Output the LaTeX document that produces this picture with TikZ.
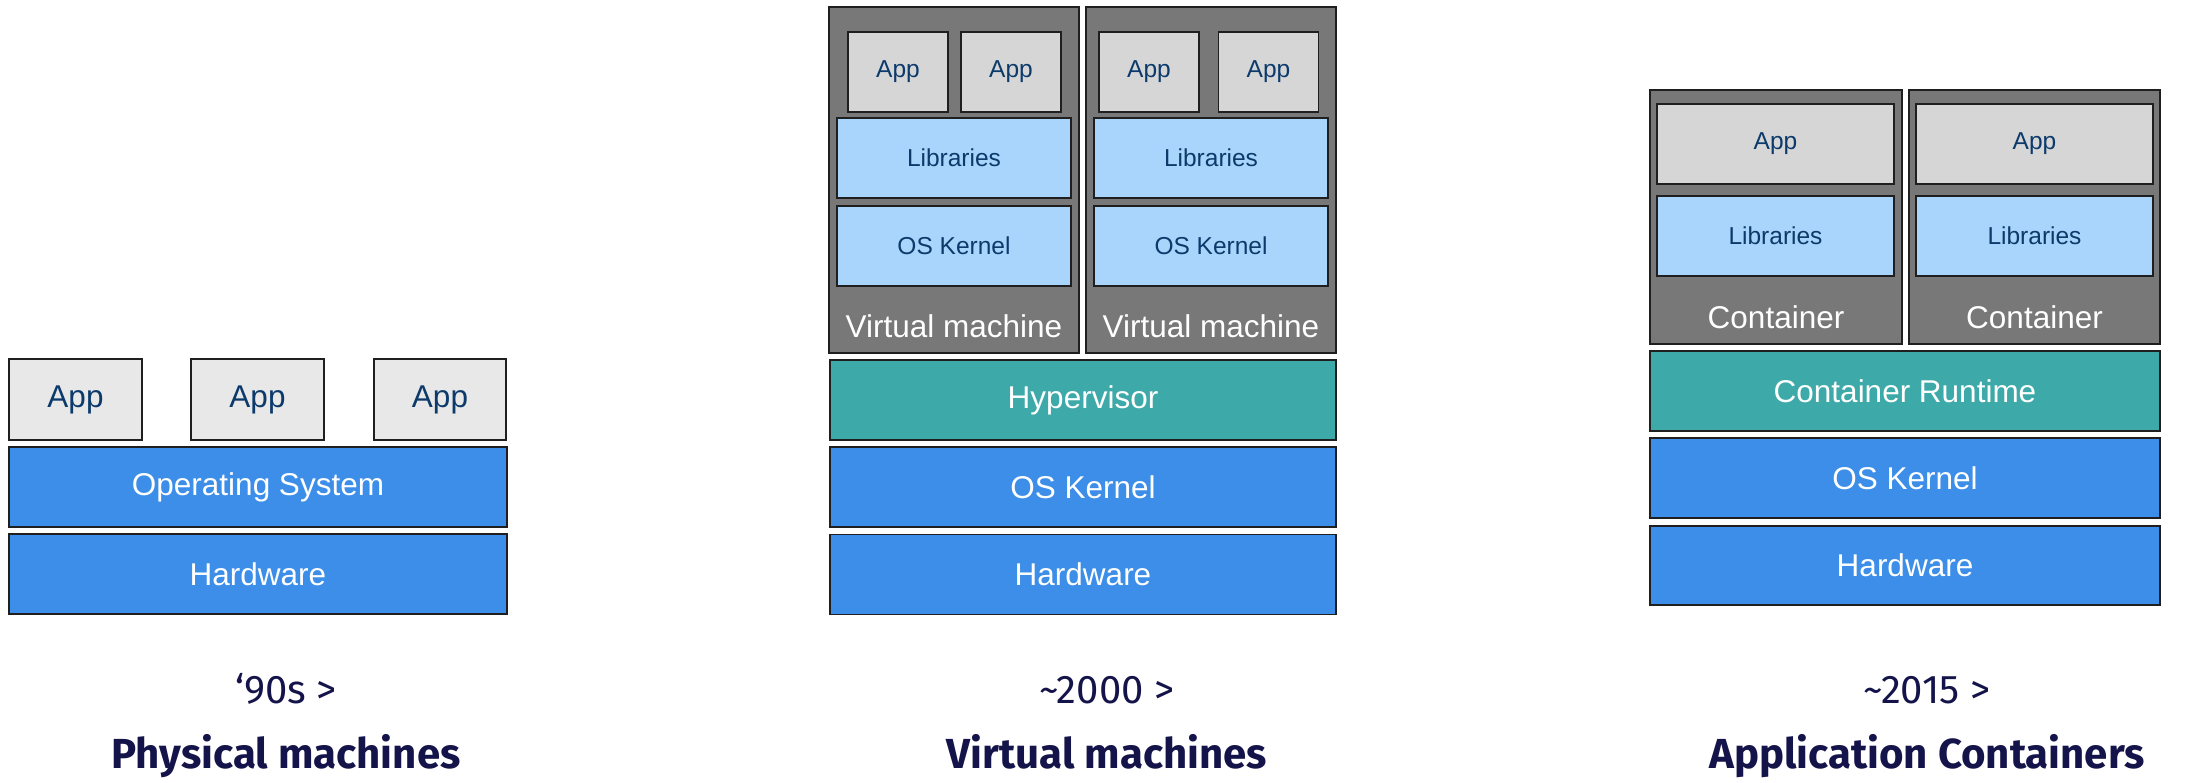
\documentclass[tikz,border=0pt]{standalone}
\usepackage{fontspec}
\setmainfont{Liberation Sans}
\newfontfamily\firafont{Fira Sans}
\definecolor{cblue}{HTML}{3C8EE9}
\definecolor{clight}{HTML}{A9D5FC}
\definecolor{cteal}{HTML}{3EA9A9}
\definecolor{cgrey}{HTML}{787878}
\definecolor{capp}{HTML}{E8E8E8}
\definecolor{capptwo}{HTML}{D6D6D6}
\definecolor{cdark}{HTML}{0C3A6B}
\definecolor{cnavy}{HTML}{15144A}
\tikzset{
  layer/.style={rectangle, draw=black!88, line width=1.5pt, inner sep=0pt, minimum height=80pt},
  bigtext/.style={font=\fontsize{31.5}{36}\selectfont, text=white},
  smalltext/.style={font=\fontsize{24.5}{28}\selectfont, text=cdark},
  bluebox/.style={layer, bigtext, fill=cblue},
  tealbox/.style={layer, bigtext, fill=cteal},
  appbig/.style={layer, fill=capp, text=cdark, font=\fontsize{31.5}{36}\selectfont},
  appsmall/.style={layer, smalltext, fill=capptwo},
  libbox/.style={layer, smalltext, fill=clight},
  holder/.style={rectangle, draw=black!88, line width=1.5pt, fill=cgrey, inner sep=0pt},
  holdlabel/.style={anchor=base, bigtext, inner sep=0pt},
  yearlabel/.style={anchor=base, text=cnavy, inner sep=0pt, font=\firafont\fontsize{40}{46}\selectfont},
  titlelabel/.style={anchor=base, text=cnavy, inner sep=0pt, font=\firafont\bfseries\fontsize{42}{48}\selectfont}
}
\begin{document}
\begin{tikzpicture}[x=1pt,y=-1pt]
\useasboundingbox (0,0) rectangle (2195,782);
% ---------- Physical machines ----------
\node[appbig, minimum width=133pt, minimum height=81pt] (pa1) at (75.5,399.5) {App};
\node[appbig, minimum width=133pt, minimum height=81pt] (pa2) at (257.5,399.5) {App};
\node[appbig, minimum width=132pt, minimum height=81pt] (pa3) at (440,399.5) {App};
\node[bluebox, minimum width=498pt] (pos) at (258,487) {Operating System};
\node[bluebox, minimum width=498pt] (phw) at (258,574) {Hardware};
\node[yearlabel] (py) at (286,703) {‘90s >};
\node[titlelabel] (pt) at (286,768) {Physical machines};
% ---------- Virtual machines ----------
\node[holder, minimum width=250pt, minimum height=346pt] (vm1) at (954,180) {};
\node[holder, minimum width=250pt, minimum height=346pt] (vm2) at (1211,180) {};
\node[appsmall, minimum width=100pt] (v1a1) at (898,72) {App};
\node[appsmall, minimum width=100pt] (v1a2) at (1011,72) {App};
\node[libbox, minimum width=234pt] (v1lib) at (954,158) {Libraries};
\node[libbox, minimum width=234pt] (v1ker) at (954,246) {OS Kernel};
\node[holdlabel] (v1lab) at (954,337) {Virtual machine};
\node[appsmall, minimum width=100pt] (v2a1) at (1149,72) {App};
\node[appsmall, minimum width=100pt] (v2a2) at (1268.5,72) {App};
\node[libbox, minimum width=234pt] (v2lib) at (1211,158) {Libraries};
\node[libbox, minimum width=234pt] (v2ker) at (1211,246) {OS Kernel};
\node[holdlabel] (v2lab) at (1211,337) {Virtual machine};
\node[tealbox, minimum width=506pt] (vhyp) at (1083,400) {Hypervisor};
\node[bluebox, minimum width=506pt] (vos) at (1083,487) {OS Kernel};
\node[bluebox, minimum width=506pt] (vhw) at (1083,574.5) {Hardware};
\node[yearlabel] (vy) at (1107,703) {\textasciitilde 2000 >};
\node[titlelabel] (vt) at (1107,768) {Virtual machines};
% ---------- Application containers ----------
\node[holder, minimum width=252pt, minimum height=254pt] (c1) at (1776,217) {};
\node[holder, minimum width=251pt, minimum height=254pt] (c2) at (2034.5,217) {};
\node[appsmall, minimum width=237pt] (c1a) at (1775.5,144) {App};
\node[libbox, minimum width=237pt] (c1lib) at (1775.5,236) {Libraries};
\node[holdlabel] (c1lab) at (1776,328) {Container};
\node[appsmall, minimum width=237pt] (c2a) at (2034.5,144) {App};
\node[libbox, minimum width=237pt] (c2lib) at (2034.5,236) {Libraries};
\node[holdlabel] (c2lab) at (2034.5,328) {Container};
\node[tealbox, minimum width=510pt] (crt) at (1905,391) {Container Runtime};
\node[bluebox, minimum width=510pt] (cos) at (1905,478) {OS Kernel};
\node[bluebox, minimum width=510pt, minimum height=79pt] (chw) at (1905,565.5) {Hardware};
\node[yearlabel] (cy) at (1927,703) {\textasciitilde 2015 >};
\node[titlelabel] (ct) at (1927,768) {Application Containers};
\end{tikzpicture}
\end{document}
